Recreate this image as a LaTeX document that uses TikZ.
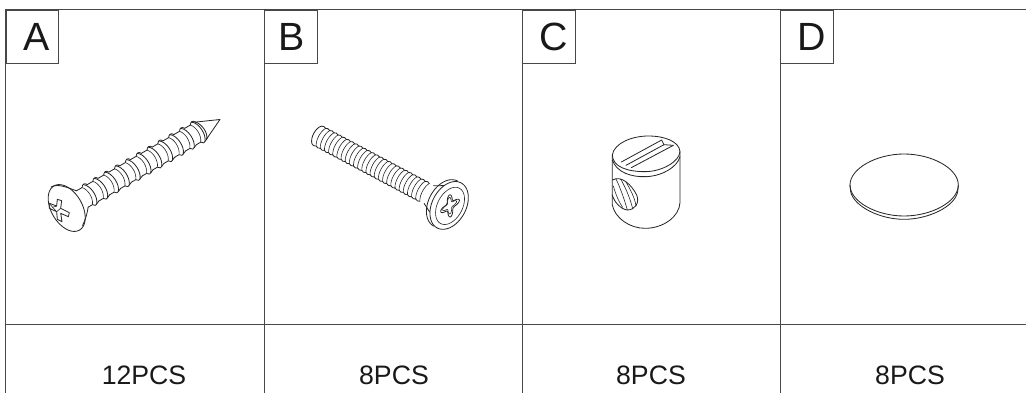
\documentclass[tikz,border=0pt]{standalone}
\usepackage{fontspec}
\setmainfont{Liberation Sans}
\begin{document}
\begin{tikzpicture}[x=0.75pt,y=-0.75pt,
  gridline/.style={draw=black!72,line width=0.62pt},
  art/.style={draw=black!85,line width=0.62pt,line join=round,line cap=round},
  fine/.style={draw=black!85,line width=0.45pt,line join=round,line cap=round},
  letterbox/.style={draw=black!72,line width=0.62pt,minimum width=39.5pt,minimum height=40pt,inner sep=0pt,anchor=north west,font=\fontsize{29.5}{30}\selectfont,fill=white,text=black!90},
  qty/.style={font=\fontsize{20}{22}\selectfont,text=black!90,inner sep=0pt}]
\useasboundingbox (0,0) rectangle (1026,393);
% grid
\draw[gridline] (1026,9.5) -- (5.5,9.5) -- (5.5,393);
\draw[gridline] (264,9.5) -- (264,393);
\draw[gridline] (522,9.5) -- (522,393);
\draw[gridline] (780,9.5) -- (780,393);
\draw[gridline] (5.5,324) -- (1026,324);
% labels
\node[letterbox] (la) at (5.5,9.5) {\hspace*{6pt}\raisebox{-1pt}{A}};
\node[letterbox] (lb) at (264,9.5) {\hspace*{2pt}\raisebox{-1pt}{B}};
\node[letterbox] (lc) at (522,9.5) {\hspace*{7pt}\raisebox{-1pt}{C}};
\node[letterbox] (ld) at (780,9.5) {\hspace*{7pt}\raisebox{-1pt}{D}};
\node[qty] (qa) at (144,375.5) {12PCS};
\node[qty] (qb) at (394,375.5) {8PCS};
\node[qty] (qc) at (651,375.5) {8PCS};
\node[qty] (qd) at (910,375.5) {8PCS};
% screw A
\begin{scope}[shift={(66.7,208)},rotate=30]
  \draw[art] plot[domain=0:360,samples=72,smooth] ({15.5*cos(\x)},{25.5*sin(\x)});
  \draw[art] (-3,-26) .. controls (5,-26) and (12,-16) .. (17,-10);
  \draw[art] (5,23) .. controls (10,20) and (15,15) .. (19,10);
  \foreach \u in {17,29.5,...,142} {
    \draw[art] (\u,-10) -- (\u+6.5,-10) .. controls (\u+8.5,-13) and (\u+11,-13) .. (\u+12.5,-10);
    \draw[art] (\u+9,-12) .. controls (\u+15,-8) and (\u+16,6) .. (\u+11,11.5);
    \draw[fine] (\u+6.5,-10) .. controls (\u+10.5,-6) and (\u+11.5,4) .. (\u+7,10);
    \draw[art] (\u+2,10) -- (\u+7,10) .. controls (\u+8,12.5) and (\u+10.5,12.5) .. (\u+11,11.5) -- (\u+14.5,10);
  }
  \draw[art] (154.5,-10) -- (177,0) -- (156,10);
  \draw[art] (154.5,-10) .. controls (159,-5) and (160,5) .. (156,10);
\end{scope}
\begin{scope}[shift={(40,170)},scale=0.3333]
  \draw[art] (28,100) -- (50,108) -- (52,88) -- (65,92) -- (62,115) -- (88,128) -- (85,140) -- (62,130) -- (66,155) -- (52,148) -- (50,125) -- (28,115) -- cycle;
  \draw[fine] (28,100) -- (38,112) -- (50,108);
  \draw[fine] (38,112) -- (50,125);
  \draw[fine] (62,115) -- (50,125);
\end{scope}
% screw B
\begin{scope}[shift={(316.7,135)},rotate=-28]
  \draw[art] (0,-10) .. controls (-4.5,-6) and (-4.5,6) .. (0,10);
  \foreach \u in {0,4.7,...,122} {
    \draw[art] (\u,-10) .. controls (\u+1.5,-11.2) and (\u+3.2,-11.2) .. (\u+4.7,-10);
    \draw[art] (\u,10) .. controls (\u+1.5,11.2) and (\u+3.2,11.2) .. (\u+4.7,10);
    \draw[fine] (\u+4.7,-10) .. controls (\u+1.5,-5) and (\u+1.5,5) .. (\u+4.7,10);
  }
  \draw[art] (127,-10) -- (136,-15);
  \draw[art] (127,10) -- (136,15);
  % head back rim and front face
  \draw[art] plot[domain=90:270,samples=40,smooth] ({146+17*cos(\x)},{25.5*sin(\x)});
  \draw[art] plot[domain=0:360,samples=72,smooth] ({150+17*cos(\x)},{25.5*sin(\x)});
  \draw[fine] plot[domain=0:360,samples=60,smooth] ({151+12.5*cos(\x)},{20*sin(\x)});
  % cross recess
  \draw[art] plot[domain=0:360,samples=120,smooth cycle] ({151+(4.4+5*abs(cos(2*\x+90))^3)*cos(\x)*0.85},{(4.4+5*abs(cos(2*\x+90))^3)*sin(\x)*1.4});
  \draw[fine] plot[domain=0:360,samples=120,smooth cycle] ({150.5+(3.2+3.8*abs(cos(2*\x+90))^3)*cos(\x)*0.85},{(3.2+3.8*abs(cos(2*\x+90))^3)*sin(\x)*1.4});
\end{scope}
% barrel nut C
\begin{scope}[shift={(590,130)},scale=0.3333]
  \draw[art] (67,75) .. controls (72,40) and (125,18) .. (175,18) .. controls (225,18) and (268,35) .. (270,65) .. controls (268,95) and (215,125) .. (165,125) .. controls (115,125) and (68,112) .. (67,75);
  \draw[art] (67,75) -- (67,225) .. controls (75,265) and (120,295) .. (165,295) .. controls (220,295) and (268,260) .. (270,218) -- (270,65);
  \draw[art] (67,90) .. controls (80,128) and (125,142) .. (170,140) .. controls (220,137) and (262,110) .. (270,80);
  % slot
  \draw[art] (94,96) -- (215,30) -- (222,44) -- (108,106);
  \draw[art] (124,113) -- (250,46);
  \draw[art] (222,44) -- (250,46);
  % threaded hole
  \draw[art] (67,150) .. controls (95,135) and (125,165) .. (140,195) .. controls (150,218) and (135,240) .. (112,240) .. controls (92,238) and (72,215) .. (67,195);
  \draw[fine] (78,147) .. controls (92,175) and (105,215) .. (112,240);
  \draw[fine] (92,147) .. controls (108,175) and (122,210) .. (128,236);
  \draw[fine] (108,156) .. controls (122,180) and (135,205) .. (138,228);
  \draw[fine] (70,168) .. controls (76,190) and (86,215) .. (98,232);
\end{scope}
% disc D
\begin{scope}[shift={(830,140)},scale=0.3333]
  \draw[art] (60,135) .. controls (60,85) and (140,42) .. (222,42) .. controls (305,42) and (385,85) .. (385,135) .. controls (385,185) and (305,228) .. (222,228) .. controls (140,228) and (60,185) .. (60,135) -- cycle;
  \draw[art] (60,135) -- (62,155) .. controls (72,200) and (150,238) .. (222,238) .. controls (295,238) and (375,200) .. (383,155) -- (385,135);
\end{scope}
\end{tikzpicture}
\end{document}
